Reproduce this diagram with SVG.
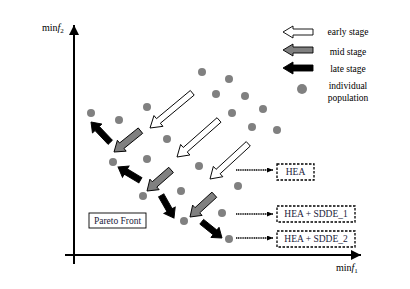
<svg xmlns="http://www.w3.org/2000/svg" width="410" height="289" viewBox="0 0 410 289">
<style>
.ax{stroke:#000;stroke-width:2;fill:none}
.dot{fill:#808080}
.early{fill:#fff;stroke:#000;stroke-width:0.9}
.mid{fill:#808080;stroke:#000;stroke-width:0.9}
.late{fill:#000;stroke:#000;stroke-width:0.9}
.t{font-family:"Liberation Serif",serif;font-size:9.5px;fill:#000}
.bt{font-family:"Liberation Serif",serif;font-size:9.5px;fill:#1a1a3a;text-anchor:middle}
.dash{fill:#fff;stroke:#000;stroke-width:1.3;stroke-dasharray:2.5,1.5}
.dl{stroke:#000;stroke-width:1.3;stroke-dasharray:1.2,0.6;fill:none}
</style>
<defs>
<marker id="ah" viewBox="0 0 10 10" refX="10" refY="5" markerWidth="10" markerHeight="10" markerUnits="userSpaceOnUse" orient="auto">
<path d="M0,0 L10,5 L0,10 Z" fill="#000"/>
</marker>
<marker id="sm" viewBox="0 0 6 6" refX="6" refY="3" markerWidth="6" markerHeight="5" markerUnits="userSpaceOnUse" orient="auto" preserveAspectRatio="none">
<path d="M0,0 L6,3 L0,6 Z" fill="#000"/>
</marker>
</defs>
<rect width="410" height="289" fill="#fff"/>
<g id="axes">
<line class="ax" x1="74" y1="264" x2="74" y2="25" marker-end="url(#ah)"/>
<line class="ax" x1="65" y1="255" x2="361" y2="255" marker-end="url(#ah)"/>
<text class="t" x="42" y="31" style="font-size:10px">min<tspan font-style="italic">f</tspan><tspan font-size="7" dy="2">2</tspan></text>
<text class="t" x="336" y="271" style="font-size:10px">min<tspan font-style="italic">f</tspan><tspan font-size="7" dy="2">1</tspan></text>
</g>
<g id="population">
<circle class="dot" cx="91" cy="113" r="4"/>
<circle class="dot" cx="119" cy="120" r="4"/>
<circle class="dot" cx="147" cy="107" r="4"/>
<circle class="dot" cx="167" cy="139" r="4"/>
<circle class="dot" cx="202" cy="72" r="4"/>
<circle class="dot" cx="229" cy="79" r="4"/>
<circle class="dot" cx="216" cy="94" r="4"/>
<circle class="dot" cx="245" cy="96" r="4"/>
<circle class="dot" cx="232" cy="113" r="4"/>
<circle class="dot" cx="263" cy="109" r="4"/>
<circle class="dot" cx="252" cy="127" r="4"/>
<circle class="dot" cx="277" cy="130" r="4"/>
<circle class="dot" cx="113" cy="162" r="4"/>
<circle class="dot" cx="147" cy="159" r="4"/>
<circle class="dot" cx="143" cy="196" r="4"/>
<circle class="dot" cx="181" cy="191" r="4"/>
<circle class="dot" cx="199" cy="166" r="4"/>
<circle class="dot" cx="238" cy="186" r="4"/>
<circle class="dot" cx="222" cy="213" r="4"/>
<circle class="dot" cx="184" cy="221" r="4"/>
<circle class="dot" cx="229" cy="239" r="4"/>
</g>
<g id="early-arrows">
<path class="early" transform="translate(150,128) rotate(-39.8)" d="M0,0 L11,-7 L11,-3 L55,-3 L55,3 L11,3 L11,7 Z"/>
<path class="early" transform="translate(177,157) rotate(-41.4)" d="M0,0 L11,-7 L11,-3 L56,-3 L56,3 L11,3 L11,7 Z"/>
<path class="early" transform="translate(210,179) rotate(-42.6)" d="M0,0 L11,-7 L11,-3 L52,-3 L52,3 L11,3 L11,7 Z"/>
</g>
<g id="mid-arrows">
<path class="mid" transform="translate(114,152) rotate(-38.9)" d="M0,0 L10,-7 L10,-3.5 L34,-3.5 L34,3.5 L10,3.5 L10,7 Z"/>
<path class="mid" transform="translate(147,191) rotate(-41.2)" d="M0,0 L10,-7 L10,-3.5 L32,-3.5 L32,3.5 L10,3.5 L10,7 Z"/>
<path class="mid" transform="translate(190,217) rotate(-42.5)" d="M0,0 L10,-7 L10,-3.5 L33,-3.5 L33,3.5 L10,3.5 L10,7 Z"/>
</g>
<g id="late-arrows">
<path class="late" transform="translate(91,122) rotate(46.5)" d="M0,0 L9,-6.5 L9,-3 L28,-3 L28,3 L9,3 L9,6.5 Z"/>
<path class="late" transform="translate(118,167) rotate(30.6)" d="M0,0 L9,-6.5 L9,-3 L26,-3 L26,3 L9,3 L9,6.5 Z"/>
<path class="late" transform="translate(174,218) rotate(-119.5)" d="M0,0 L9,-6.5 L9,-3 L26,-3 L26,3 L9,3 L9,6.5 Z"/>
<path class="late" transform="translate(222,238) rotate(-141.3)" d="M0,0 L9,-6.5 L9,-3 L26,-3 L26,3 L9,3 L9,6.5 Z"/>
</g>
<g id="legend">
<path class="early" transform="translate(283,32)" d="M0,0 L10,-6 L10,-3 L30,-3 L30,3 L10,3 L10,6 Z"/>
<path class="mid" transform="translate(283,50)" d="M0,0 L10,-6 L10,-3 L30,-3 L30,3 L10,3 L10,6 Z"/>
<path class="late" transform="translate(283,68)" d="M0,0 L10,-6 L10,-3 L30,-3 L30,3 L10,3 L10,6 Z"/>
<circle class="dot" cx="302" cy="89" r="5"/>
<text class="t" x="348" y="35" text-anchor="middle">early stage</text>
<text class="t" x="348" y="55" text-anchor="middle">mid stage</text>
<text class="t" x="348" y="72" text-anchor="middle">late stage</text>
<text class="t" x="348" y="89" text-anchor="middle">individual</text>
<text class="t" x="348" y="101" text-anchor="middle">population</text>
</g>
<g id="pareto">
<rect x="89" y="213" width="57" height="15" fill="#fff" stroke="#000" stroke-width="0.9"/>
<text class="bt" x="117.5" y="224">Pareto Front</text>
</g>
<g id="hea">
<rect class="dash" x="277" y="164" width="37" height="16"/>
<text class="bt" x="295.5" y="175">HEA</text>
</g>
<g id="hea-sdde1">
<rect class="dash" x="277" y="206" width="78" height="16"/>
<text class="bt" x="316" y="217">HEA + SDDE_1</text>
</g>
<g id="hea-sdde2">
<rect class="dash" x="277" y="231" width="78" height="16"/>
<text class="bt" x="316" y="242">HEA + SDDE_2</text>
</g>
<g id="connectors">
<line class="dl" x1="236" y1="170" x2="273" y2="170" marker-end="url(#sm)"/>
<line class="dl" x1="236" y1="214" x2="273" y2="214" marker-end="url(#sm)"/>
<line class="dl" x1="236" y1="238" x2="273" y2="238" marker-end="url(#sm)"/>
</g>
</svg>
